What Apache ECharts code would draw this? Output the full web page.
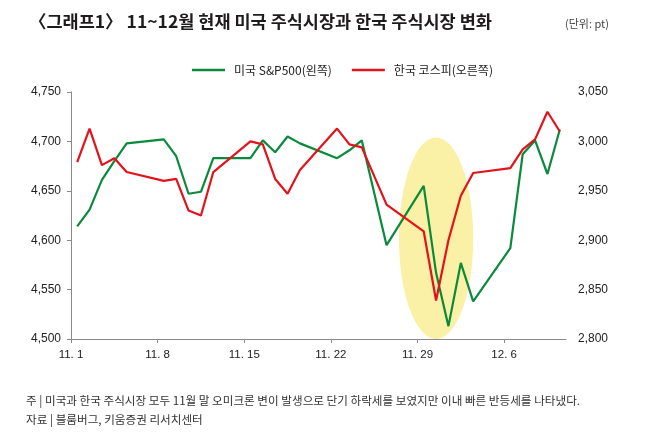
<!DOCTYPE html>
<html>
<head>
<meta charset="utf-8">
<script src="https://cdn.jsdelivr.net/npm/echarts@6/dist/echarts.min.js"></script>
<style>
  html, body { margin: 0; padding: 0; background: #fff; }
  #main { width: 650px; height: 436px; }
</style>
</head>
<body>
<div id="main"></div>
<script>
// trading days (US), Nov 25 excluded
const dates = ['11.1', '11.2', '11.3', '11.4', '11.5', '11.8', '11.9', '11.10', '11.11', '11.12',
  '11.15', '11.16', '11.17', '11.18', '11.19', '11.22', '11.23', '11.24', '11.26',
  '11.29', '11.30', '12.1', '12.2', '12.3', '12.6', '12.7', '12.8', '12.9', '12.10'];
// S&P500 (left axis)
const spx = [4614, 4631, 4661, 4680, 4698, 4702, 4685, 4647, 4649, 4683,
  4683, 4701, 4689, 4705, 4698, 4683, 4691, 4701, 4595,
  4655, 4567, 4513, 4577, 4538, 4592, 4687, 4701, 4667, 4712];
// KOSPI (right axis)
const kospi = [2979, 3013, 2976, 2983, 2969, 2960, 2962, 2930, 2925, 2969,
  3000, 2997, 2962, 2947, 2971, 3013, 2997, 2994, 2936,
  2909, 2839, 2900, 2945, 2968, 2973, 2992, 3002, 3030, 3010];
const xTickDays = [0, 7, 14, 21, 28, 35];
const xTickLabels = ['11. 1', '11. 8', '11. 15', '11. 22', '11. 29', '12. 6'];
const leftTicks = [4500, 4550, 4600, 4650, 4700, 4750];
const rightTicks = [2800, 2850, 2900, 2950, 3000, 3050];

// day offset from Nov 1, points sit in the middle of each day
const dayPos = s => {
  const [m, d] = s.split('.').map(Number);
  return (m === 11 ? d - 1 : 30 + d - 1) + 0.5;
};

const chart = echarts.init(document.getElementById('main'));
const cjk = "'Noto Sans CJK KR', sans-serif";
const num = "'Liberation Sans', Arial, sans-serif";

const option = {
  animation: false,
  title: [
    {
      text: '〈그래프1〉 11~12월 현재 미국 주식시장과 한국 주식시장 변화',
      left: 24, top: 8,
      textStyle: { fontFamily: cjk, fontSize: 17.5, fontWeight: 'bold', color: '#1e1b1c' }
    },
    {
      text: '(단위: pt)',
      left: 560, top: 13,
      textStyle: { fontFamily: cjk, fontSize: 11, fontWeight: 'normal', color: '#444' }
    }
  ],
  legend: {
    left: 187, top: 59,
    icon: 'rect',
    itemWidth: 33, itemHeight: 2.5,
    itemGap: 20,
    textStyle: { fontFamily: cjk, fontSize: 12, color: '#222', padding: [0, 0, 0, 4] },
    data: ['미국 S&P500(왼쪽)', '한국 코스피(오른쪽)']
  },
  grid: { left: 71, right: 84, top: 92, bottom: 97 },
  xAxis: {
    type: 'value', min: 0, max: 40,
    splitLine: { show: false },
    axisLine: { lineStyle: { color: '#8a8a8a', width: 1 } },
    axisTick: { show: true, length: 4, customValues: xTickDays, lineStyle: { color: '#8a8a8a' } },
    axisLabel: {
      customValues: xTickDays,
      margin: 10,
      fontFamily: num, fontSize: 11.5, color: '#222',
      formatter: v => xTickLabels[xTickDays.indexOf(v)] || ''
    }
  },
  yAxis: [
    {
      type: 'value', min: 4500, max: 4750, interval: 50,
      splitLine: { show: false },
      axisLine: { show: true, lineStyle: { color: '#8a8a8a', width: 1 } },
      axisTick: { show: true, length: 4, lineStyle: { color: '#8a8a8a' } },
      axisLabel: {
        margin: 10, fontFamily: num, fontSize: 12, color: '#222',
        formatter: v => leftTicks.includes(v) ? v.toLocaleString('en-US') : ''
      }
    },
    {
      type: 'value', min: 2800, max: 3050, interval: 50,
      splitLine: { show: false },
      axisLine: { show: false },
      axisTick: { show: false },
      axisLabel: {
        margin: 12, fontFamily: num, fontSize: 12, color: '#222',
        formatter: v => rightTicks.includes(v) ? v.toLocaleString('en-US') : ''
      }
    }
  ],
  series: [
    {
      name: '미국 S&P500(왼쪽)',
      type: 'line',
      yAxisIndex: 0,
      showSymbol: false,
      z: 4,
      color: '#0a8a3c',
      lineStyle: { width: 2.2, color: '#0a8a3c' },
      data: dates.map((d, i) => [dayPos(d), spx[i]])
    },
    {
      name: '한국 코스피(오른쪽)',
      type: 'line',
      yAxisIndex: 1,
      showSymbol: false,
      z: 5,
      color: '#e3121b',
      lineStyle: { width: 2.2, color: '#e3121b' },
      data: dates.map((d, i) => [dayPos(d), kospi[i]])
    }
  ]
};
chart.setOption(option);

// yellow highlight ellipse round the late-November drop
const c = chart.convertToPixel({ xAxisIndex: 0, yAxisIndex: 0 }, [29.5, 4602]);
const e1 = chart.convertToPixel({ xAxisIndex: 0, yAxisIndex: 0 }, [26.5, 4500]);
const rx = c[0] - e1[0];
const ry = e1[1] - c[1];

chart.setOption({
  graphic: [
    {
      type: 'circle',
      x: c[0], y: c[1],
      scaleX: rx / ry, scaleY: 1,
      shape: { cx: 0, cy: 0, r: ry },
      style: { fill: '#faf0a6' },
      z: 1, silent: true
    },
    {
      type: 'text', left: 26, top: 395,
      style: {
        text: '주 | 미국과 한국 주식시장 모두 11월 말 오미크론 변이 발생으로 단기 하락세를 보였지만 이내 빠른 반등세를 나타냈다.',
        font: "11.6px 'Noto Sans CJK KR', sans-serif", fill: '#333'
      }
    },
    {
      type: 'text', left: 26, top: 414,
      style: {
        text: '자료 | 블룸버그, 키움증권 리서치센터',
        font: "11.6px 'Noto Sans CJK KR', sans-serif", fill: '#333'
      }
    }
  ]
});
</script>
</body>
</html>
